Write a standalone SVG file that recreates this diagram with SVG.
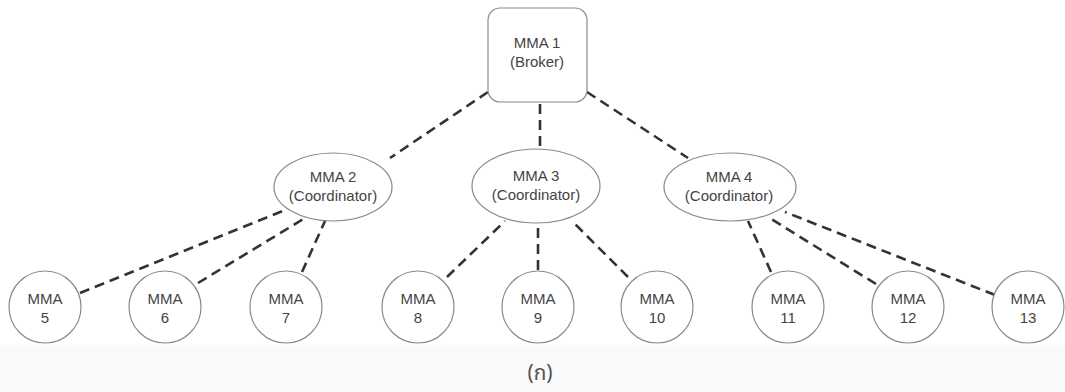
<svg xmlns="http://www.w3.org/2000/svg" width="1065" height="392" viewBox="0 0 1065 392">
  <style>
    .shape { fill: #ffffff; stroke: #8a8a8a; stroke-width: 1.2; }
    .link { stroke: #333333; stroke-width: 2.6; stroke-dasharray: 10 6; fill: none; }
    .lbl { font-family: "Liberation Sans", Arial, sans-serif; font-size: 15px; fill: #444444; text-anchor: middle; }
    .cap { font-family: "Noto Sans Thai", "Noto Sans", "DejaVu Sans", sans-serif; font-size: 21px; fill: #555555; text-anchor: middle; }
  </style>
  <rect width="1065" height="392" fill="#ffffff"/>
  <rect x="0" y="345" width="1065" height="47" fill="#fafafa"/>

  <!-- dashed links between agents -->
  <g id="connectors">
    <line class="link" x1="488" y1="92" x2="390" y2="158"/>
    <line class="link" x1="540" y1="104" x2="540" y2="150"/>
    <line class="link" x1="587" y1="92" x2="688" y2="158"/>
    <line class="link" x1="80" y1="293" x2="290" y2="208"/>
    <line class="link" x1="198" y1="283" x2="310" y2="215"/>
    <line class="link" x1="302" y1="272" x2="325" y2="221"/>
    <line class="link" x1="447" y1="277" x2="505" y2="221"/>
    <line class="link" x1="538" y1="270" x2="538" y2="225"/>
    <line class="link" x1="628" y1="277" x2="572" y2="221"/>
    <line class="link" x1="771" y1="272" x2="748" y2="221"/>
    <line class="link" x1="876" y1="284" x2="768" y2="217"/>
    <line class="link" x1="995" y1="295" x2="785" y2="212"/>
  </g>

  <g id="mma1">
    <rect class="shape" x="488" y="8" width="99" height="94" rx="12"/>
    <text class="lbl" x="537" y="48">MMA 1</text>
    <text class="lbl" x="537" y="67">(Broker)</text>
  </g>

  <g id="mma2">
    <ellipse class="shape" cx="333" cy="187" rx="59" ry="34"/>
    <text class="lbl" x="333" y="182">MMA 2</text>
    <text class="lbl" x="333" y="201">(Coordinator)</text>
  </g>
  <g id="mma3">
    <ellipse class="shape" cx="536" cy="186" rx="64" ry="37"/>
    <text class="lbl" x="536" y="181">MMA 3</text>
    <text class="lbl" x="536" y="200">(Coordinator)</text>
  </g>
  <g id="mma4">
    <ellipse class="shape" cx="730" cy="187" rx="66" ry="34"/>
    <text class="lbl" x="729" y="182">MMA 4</text>
    <text class="lbl" x="729" y="201">(Coordinator)</text>
  </g>

  <g id="mma5"><circle class="shape" cx="45" cy="307" r="36"/><text class="lbl" x="45" y="304">MMA</text><text class="lbl" x="45" y="323">5</text></g>
  <g id="mma6"><circle class="shape" cx="165" cy="307" r="36"/><text class="lbl" x="165" y="304">MMA</text><text class="lbl" x="165" y="323">6</text></g>
  <g id="mma7"><circle class="shape" cx="286" cy="307" r="36"/><text class="lbl" x="286" y="304">MMA</text><text class="lbl" x="286" y="323">7</text></g>
  <g id="mma8"><circle class="shape" cx="418" cy="307" r="36"/><text class="lbl" x="418" y="304" fill="#777">MMA</text><text class="lbl" x="418" y="323" fill="#777">8</text></g>
  <g id="mma9"><circle class="shape" cx="538" cy="307" r="36"/><text class="lbl" x="538" y="304">MMA</text><text class="lbl" x="538" y="323">9</text></g>
  <g id="mma10"><circle class="shape" cx="657" cy="307" r="36"/><text class="lbl" x="657" y="304">MMA</text><text class="lbl" x="657" y="323">10</text></g>
  <g id="mma11"><circle class="shape" cx="788" cy="307" r="36"/><text class="lbl" x="788" y="304">MMA</text><text class="lbl" x="788" y="323">11</text></g>
  <g id="mma12"><circle class="shape" cx="908" cy="307" r="36"/><text class="lbl" x="908" y="304">MMA</text><text class="lbl" x="908" y="323">12</text></g>
  <g id="mma13"><circle class="shape" cx="1028" cy="307" r="36"/><text class="lbl" x="1028" y="304">MMA</text><text class="lbl" x="1028" y="323">13</text></g>

  <text class="cap" x="540" y="380">(ก)</text>
</svg>
